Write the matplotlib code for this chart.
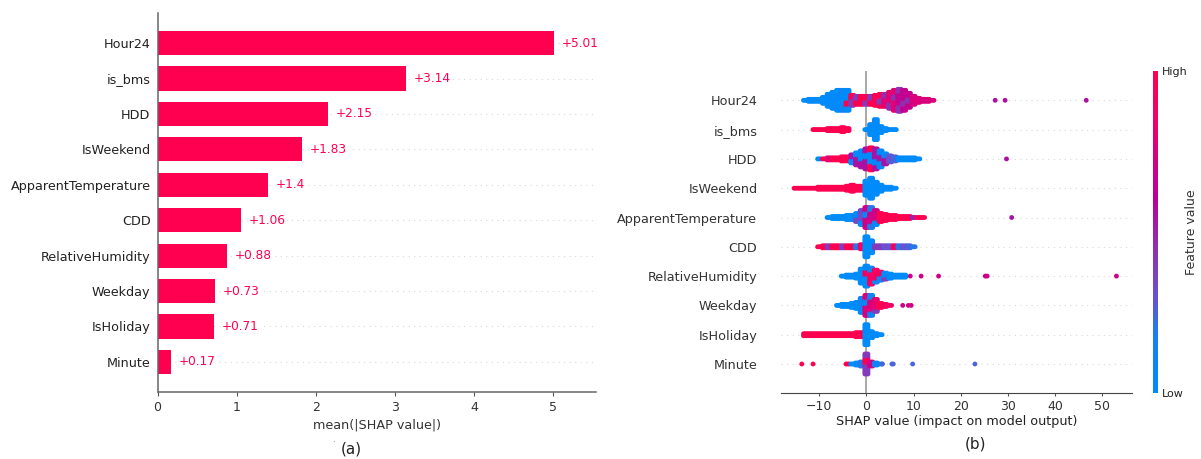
import numpy as np
import matplotlib
matplotlib.use('Agg')
import matplotlib.pyplot as plt
from matplotlib.colors import LinearSegmentedColormap
from matplotlib.cm import ScalarMappable

features = ['Hour24', 'is_bms', 'HDD', 'IsWeekend', 'ApparentTemperature',
            'CDD', 'RelativeHumidity', 'Weekday', 'IsHoliday', 'Minute']
mean_shap = [5.01, 3.14, 2.15, 1.83, 1.4, 1.06, 0.88, 0.73, 0.71, 0.17]
bar_labels = ['+5.01', '+3.14', '+2.15', '+1.83', '+1.4', '+1.06', '+0.88', '+0.73', '+0.71', '+0.17']

# beeswarm: SHAP bin, dots in that bin, feature values in the bin
bins = [-15, -14, -13, -12, -11, -10, -9, -8, -7, -6, -5, -4, -3, -2, -1,
        0, 1, 2, 3, 4, 5, 6, 7, 8, 9, 10, 11, 12, 13, 14]
counts = {
    'Hour24':              [0,0,1,2,2,2,4,7,9,11,11,11,6,5,5, 5,5,6,7,7,9,11,12,11,8,5,3,2,2,1],
    'is_bms':              [0,0,0,0,1,1,1,2,2,2,3,2,0,0,0, 1,6,11,4,2,1,1,0,0,0,0,0,0,0,0],
    'HDD':                 [0,0,0,0,0,1,1,2,2,2,3,3,5,7,9, 11,12,11,9,6,4,3,2,2,2,2,1,0,0,0],
    'IsWeekend':           [1,1,1,1,1,2,2,2,2,2,2,3,4,3,3, 8,11,7,4,2,2,1,0,0,0,0,0,0,0,0],
    'ApparentTemperature': [0,0,0,0,0,0,0,1,2,2,2,3,3,5,8, 11,11,8,5,4,3,3,2,2,2,1,1,1,0,0],
    'CDD':                 [0,0,0,0,0,1,2,2,2,2,2,2,2,2,3, 11,7,2,2,2,2,2,2,2,2,1,0,0,0,0],
    'RelativeHumidity':    [0,0,0,0,0,0,0,0,0,0,1,2,2,3,8, 11,9,7,5,4,3,2,2,2,0,0,0,0,0,0],
    'Weekday':             [0,0,0,0,0,0,0,0,0,1,2,2,3,4,8, 11,11,7,3,2,1,0,0,0,0,0,0,0,0,0],
    'IsHoliday':           [0,0,2,2,2,2,2,2,2,2,2,2,2,3,3, 11,4,2,1,0,0,0,0,0,0,0,0,0,0,0],
    'Minute':              [0,0,0,0,0,0,0,0,0,0,0,1,1,2,3, 11,3,2,1,0,0,0,0,0,0,0,0,0,0,0],
}
value_main = {
    'Hour24':              [0,0,0,0,0,0,0,0,0,0,0,0,1,1,1, 1,1,1,1,.8,.8,.8,.65,.65,.65,.75,.75,.75,.75,.75],
    'is_bms':              [1,1,1,1,1,1,1,1,1,1,1,1,1,1,1, 0,0,0,0,0,0,0,0,0,0,0,0,0,0,0],
    'HDD':                 [0,0,0,0,0,0,1,1,1,1,1,1,.55,.55,0, .55,0,.55,0,.55,.3,.25,.15,0,0,0,0,0,0,0],
    'IsWeekend':           [1,1,1,1,1,1,1,1,1,1,1,1,1,1,1, 0,0,0,0,0,0,0,0,0,0,0,0,0,0,0],
    'ApparentTemperature': [0,0,0,0,0,0,0,0,0,0,0,0,0,.35,.35, .7,.7,.7,1,1,1,1,1,1,1,.5,1,1,1,1],
    'CDD':                 [1,1,1,1,1,1,1,1,1,1,1,1,1,.9,.9, 0,0,.4,.4,1,.3,.9,.3,.3,.25,.25,.25,0,0,0],
    'RelativeHumidity':    [0,0,0,0,0,0,0,0,0,0,0,0,0,0,0, 0,.9,.9,.9,.4,0,0,0,0,0,0,0,0,0,0],
    'Weekday':             [0,0,0,0,0,0,0,0,0,0,0,0,0,0,.1, .75,.75,.8,1,1,.9,0,0,0,0,0,0,0,0,0],
    'IsHoliday':           [1,1,1,1,1,1,1,1,1,1,1,1,1,1,1, 0,0,0,0,0,0,0,0,0,0,0,0,0,0,0],
    'Minute':              [1,1,1,1,1,1,1,1,1,1,1,1,0,0,.2, .4,.1,.1,.15,0,0,0,0,0,0,0,0,0,0,0],
}
value_alt = {
    'Hour24':              [0,0,0,0,0,0,0,.05,.05,.05,.1,1,.4,.4,.4, .4,.4,.4,.4,.45,.45,.45,.45,.45,.45,.75,.75,.75,.75,.75],
    'is_bms':              [1,1,1,1,1,1,1,1,1,1,1,1,1,1,1, 0,0,0,0,0,0,0,0,0,0,0,0,0,0,0],
    'HDD':                 [0,0,0,0,0,0,1,.8,1,.8,1,.8,0,0,.55, 0,1,0,.55,0,0,0,0,0,0,0,0,0,0,0],
    'IsWeekend':           [1,1,1,1,1,1,1,1,1,1,1,1,1,1,1, 0,0,0,0,0,0,0,0,0,0,0,0,0,0,0],
    'ApparentTemperature': [0,0,0,0,0,0,0,0,0,0,0,0,0,0,0, 0,.2,0,1,1,1,1,1,1,1,.5,1,1,1,1],
    'CDD':                 [.4,.4,.4,.4,.4,.4,.4,.4,.4,.4,.4,.4,.4,.2,.2, 0,0,0,0,.3,.2,.3,.2,.2,.2,.2,.2,0,0,0],
    'RelativeHumidity':    [0,0,0,0,0,0,0,0,0,0,0,0,0,0,0, .9,.1,.1,.1,0,0,0,0,0,0,0,0,0,0,0],
    'Weekday':             [0,0,0,0,0,0,0,0,0,0,0,0,0,0,0, 0,.1,.4,.8,.9,1,0,0,0,0,0,0,0,0,0],
    'IsHoliday':           [1,1,1,1,1,1,1,1,1,1,1,1,1,1,1, 0,0,0,0,0,0,0,0,0,0,0,0,0,0,0],
    'Minute':              [1,1,1,1,1,1,1,1,1,1,1,1,0,0,.3, 1,.7,.2,.1,0,0,0,0,0,0,0,0,0,0,0],
}
# single dots far from the swarm
outlier_row = [0, 0, 0, 2, 4, 6, 6, 6, 6, 6, 6, 7, 7, 7, 9, 9, 9, 9, 9, 9, 9]
outlier_x = [27.3, 29.4, 46.6, 29.7, 30.8, 9.3, 11.6, 15.3, 25.2, 25.6, 53.0, 7.7, 8.9, 9.5,
             -13.7, -11.3, 3.4, 5.4, 5.7, 9.8, 23.0]
outlier_val = [.55, .55, .55, .55, .55, .7, .7, .7, .7, .7, .7, .7, .7, .7, 1, 1, .25, .25, .25, .25, .25]

red = '#ff0051'
cmap = LinearSegmentedColormap.from_list('red_blue', [(0, '#008bfb'), (.18, '#1a7ff0'), (.3, '#6a50d0'),
                                                      (.45, '#9030b0'), (.6, '#b8009a'), (.85, '#f00068'), (1, red)])
W, H = 1201, 459
txt = '#333333'

fig = plt.figure(figsize=(W / 100, H / 100), dpi=100)
plt.rcParams['font.family'] = 'DejaVu Sans'

# (a) bars
ax1 = fig.add_axes([157.5 / W, 1 - 392 / H, (596 - 157.5) / W, (392 - 13) / H])
rows = np.arange(len(features))
for r in rows:
    ax1.axhline(r, color='#d8d8d8', lw=0.8, dashes=(1, 4), zorder=0)
ax1.barh(rows, mean_shap, height=0.68, color=red, zorder=2)
for r, v, s in zip(rows, mean_shap, bar_labels):
    ax1.annotate(s, (v, r), xytext=(5.5, 0), textcoords='offset points', color=red, fontsize=8.7,
                 va='center', ha='left', bbox=dict(fc='white', ec='none', pad=1), zorder=3)
ax1.set_xlim(0, 5.54)
ax1.set_ylim(9.85, -0.85)
ax1.set_yticks(rows, features, fontsize=9.2, color='#222222')
ax1.set_xticks([0, 1, 2, 3, 4, 5])
ax1.tick_params(axis='y', length=0, pad=5)
ax1.tick_params(axis='x', labelsize=9, length=3, color='#555555', labelcolor=txt)
ax1.set_xlabel('mean(|SHAP value|)', fontsize=9.2, color=txt, labelpad=3)
ax1.spines[['top', 'right']].set_visible(False)
ax1.spines[['left', 'bottom']].set_color('#666666')
ax1.spines[['left', 'bottom']].set_linewidth(1.1)

# (b) beeswarm
ax2 = fig.add_axes([781 / W, 1 - 393.3 / H, (1132 - 781) / W, (393.3 - 71) / H])
for r in rows:
    ax2.axhline(r, color='#d8d8d8', lw=0.8, dashes=(1, 4), zorder=0)
ax2.axvline(0, color='#999999', lw=1.2, zorder=1)
step = 2 / 29.3  # dot spacing inside a stack, in rows
px, py, pc = [], [], []
for r, name in enumerate(features):
    for j, (x, n, a, b) in enumerate(zip(bins, counts[name], value_main[name], value_alt[name])):
        # dots of a bin sit side by side across the bin width
        for dx in [-0.33, 0, 0.33]:
            for i in range(n):
                px.append(x + dx)
                py.append(r + (i - (n - 1) / 2) * step)
                pc.append(b if (i // 3 + j) % 3 == 1 else a)
ax2.scatter(px, py, c=pc, s=12, cmap=cmap, vmin=0, vmax=1, linewidths=0, zorder=3)
ax2.scatter(outlier_x, outlier_row, c=outlier_val, s=12, cmap=cmap, vmin=0, vmax=1, linewidths=0, zorder=3)
ax2.set_xlim(-18.1, 56.3)
ax2.set_ylim(10, -1)
ax2.set_yticks(rows, features, fontsize=9.2, color=txt)
ax2.set_xticks([-10, 0, 10, 20, 30, 40, 50])
ax2.tick_params(axis='y', length=0, pad=17)
ax2.tick_params(axis='x', labelsize=9, length=2, color='#555555', labelcolor=txt, pad=2.5)
ax2.set_xlabel('SHAP value (impact on model output)', fontsize=9.2, color='#222222', labelpad=2)
ax2.spines[['top', 'right', 'left']].set_visible(False)
ax2.spines['bottom'].set_color('#444444')

# colour bar
cax = fig.add_axes([1153 / W, 1 - 393 / H, 5 / W, (393 - 71) / H])
cb = fig.colorbar(ScalarMappable(cmap=cmap), cax=cax, ticks=[0, 1])
cb.ax.set_yticklabels(['Low', 'High'], fontsize=8, color='#222222')
cb.ax.tick_params(length=0, pad=3)
cb.outline.set_visible(False)
cb.set_label('Feature value', fontsize=9, color=txt, labelpad=-2)

fig.text(351 / W, 1 - 449 / H, '(a)', fontsize=11, color='#222222', ha='center', va='center')
fig.text(333 / W, 1 - 443 / H, '·', fontsize=6, color='#555555', ha='center', va='center')
fig.text(976 / W, 1 - 444 / H, '(b)', fontsize=11, color='#222222', ha='center', va='center')

fig.savefig('out.png', dpi=100)
